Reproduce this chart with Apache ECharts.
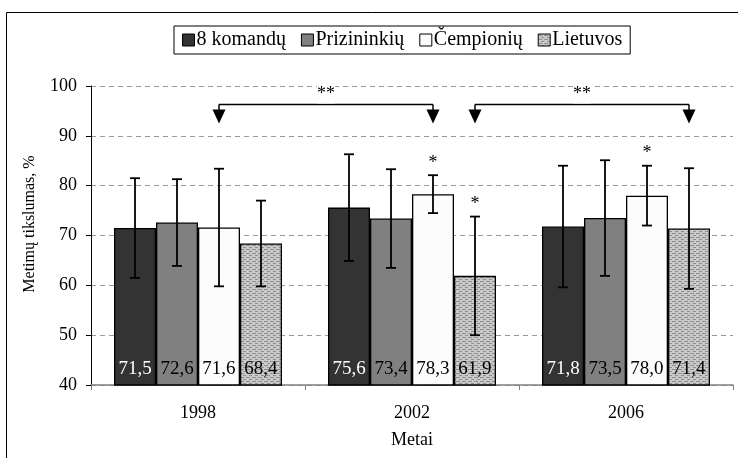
<!DOCTYPE html>
<html>
<head>
<meta charset="utf-8">
<script src="https://cdn.jsdelivr.net/npm/echarts@6/dist/echarts.min.js"></script>
<style>
  html, body { margin: 0; padding: 0; background: #fff; }
  #chart { width: 738px; height: 458px; }
</style>
</head>
<body>
<div id="chart"></div>
<script>
// -------------------- data --------------------
const categories = ['1998', '2002', '2006']
const seriesNames = ['8 komandų', 'Prizininkių', 'Čempionių', 'Lietuvos']

const komanduMean = [71.5, 75.6, 71.8]
const prizMean = [72.6, 73.4, 73.5]
const cempMean = [71.6, 78.3, 78.0]
const lietMean = [68.4, 61.9, 71.4]

// standartinis nuokrypis (error bars)
const komanduSd = [10.0, 10.7, 12.2]
const prizSd = [8.7, 9.9, 11.6]
const cempSd = [11.8, 3.8, 6.0]
const lietSd = [8.6, 11.9, 12.1]

const yTicks = [40, 50, 60, 70, 80, 90, 100]

// * virš stulpelio: [kategorija, serija]
const starMarks = [[1, 2], [1, 3], [2, 2]]
// ** skliaustai: [nuo kat., nuo serijos, iki kat., iki serijos, lygis]
const brackets = [[0, 2, 1, 2, 96.3], [1, 3, 2, 3, 96.3]]

// -------------------- helpers --------------------
const FONT = "'Liberation Serif', 'Times New Roman', serif"
const GAP = 0.215
const means = [komanduMean, prizMean, cempMean, lietMean]
const sds = [komanduSd, prizSd, cempSd, lietSd]

function makePattern() {
  const c = document.createElement('canvas')
  c.width = 6
  c.height = 4
  const ctx = c.getContext('2d')
  ctx.fillStyle = '#cacaca'
  ctx.fillRect(0, 0, 6, 4)
  ctx.fillStyle = '#8e8e8e'
  ctx.fillRect(0, 1, 4, 1)
  ctx.fillRect(3, 3, 3, 1)
  return { image: c, repeat: 'repeat' }
}

function barOffset(api, ser) {
  const band = api.size([1, 0])[0]
  const group = band * (1 - GAP)
  const bw = group / 4
  return { x: -group / 2 + bw * (ser + 0.5), bw: bw }
}

const barColors = ['#333333', '#808080', '#fcfcfc', makePattern()]
const labelColors = ['#fff', '#000', '#000', '#000']

const errData = []
means.forEach((m, s) => {
  m.forEach((v, c) => errData.push([c, s, v - sds[s][c], v + sds[s][c]]))
})

const barSeries = seriesNames.map((name, s) => ({
  name: name,
  type: 'bar',
  data: means[s],
  barGap: '0%',
  barCategoryGap: (GAP * 100) + '%',
  itemStyle: { color: barColors[s], borderColor: '#000', borderWidth: 1.3 },
  label: {
    show: true,
    position: 'insideBottom',
    distance: 7,
    formatter: p => p.value.toFixed(1).replace('.', ','),
    color: labelColors[s],
    fontFamily: FONT,
    fontSize: 19
  },
  z: 2
}))

const option = {
  animation: false,
  backgroundColor: '#fff',
  textStyle: { fontFamily: FONT },
  legend: {
    data: seriesNames,
    top: 26,
    left: 174,
    itemWidth: 12,
    itemHeight: 12,
    itemGap: 15,
    padding: [4, 8],
    borderColor: '#000',
    borderWidth: 1,
    icon: 'rect',
    itemStyle: { borderColor: '#000', borderWidth: 1 },
    textStyle: { fontFamily: FONT, fontSize: 20, color: '#000', padding: [0, 0, 0, -3] }
  },
  grid: { left: 91, right: 5, top: 86, bottom: 73 },
  xAxis: {
    type: 'category',
    data: categories,
    name: 'Metai',
    nameLocation: 'middle',
    nameGap: 46,
    nameTextStyle: { fontFamily: FONT, fontSize: 18, color: '#000' },
    axisLine: { lineStyle: { color: '#808080', width: 1.5 } },
    axisTick: { show: true, length: 5, lineStyle: { color: '#808080' } },
    axisLabel: { fontFamily: FONT, fontSize: 18, color: '#000', margin: 19 }
  },
  yAxis: {
    type: 'value',
    min: yTicks[0],
    max: yTicks[yTicks.length - 1],
    interval: 10,
    axisLine: { show: true, lineStyle: { color: '#000', width: 1 } },
    axisTick: { show: true, length: 5, lineStyle: { color: '#000' } },
    axisLabel: { fontFamily: FONT, fontSize: 18, color: '#000', margin: 14 },
    splitLine: { lineStyle: { color: '#999', type: [5, 4], width: 1 } }
  },
  graphic: [
    {
      type: 'rect',
      shape: { x: 6.5, y: 12.5, width: 900, height: 600 },
      style: { fill: null, stroke: '#000', lineWidth: 1 },
      silent: true
    },
    {
      type: 'text',
      x: 30,
      y: 224,
      rotation: Math.PI / 2,
      style: {
        text: 'Metimų tikslumas, %',
        font: '16px ' + FONT,
        fill: '#000',
        align: 'center',
        verticalAlign: 'middle'
      }
    }
  ],
  series: barSeries.concat([
    // error bars
    {
      type: 'custom',
      name: 'sd',
      data: errData,
      encode: { x: 0, y: [2, 3] },
      z: 5,
      renderItem: (params, api) => {
        const c = api.value(0)
        const s = api.value(1)
        const lo = api.coord([c, api.value(2)])
        const hi = api.coord([c, api.value(3)])
        const x = lo[0] + barOffset(api, s).x
        const cap = 5
        const style = { stroke: '#000', lineWidth: 1.8 }
        return {
          type: 'group',
          children: [
            { type: 'line', shape: { x1: x, y1: lo[1], x2: x, y2: hi[1] }, style: style },
            { type: 'line', shape: { x1: x - cap, y1: lo[1], x2: x + cap, y2: lo[1] }, style: style },
            { type: 'line', shape: { x1: x - cap, y1: hi[1], x2: x + cap, y2: hi[1] }, style: style }
          ]
        }
      }
    },
    // * žymės
    {
      type: 'custom',
      name: 'stars',
      data: starMarks.map(d => [d[0], d[1], means[d[1]][d[0]] + sds[d[1]][d[0]]]),
      encode: { x: 0, y: 2 },
      z: 5,
      renderItem: (params, api) => {
        const c = api.value(0)
        const s = api.value(1)
        const p = api.coord([c, api.value(2)])
        return {
          type: 'text',
          x: p[0] + barOffset(api, s).x,
          y: p[1] - 3,
          style: { text: '*', font: '18px ' + FONT, fill: '#000', align: 'center', verticalAlign: 'bottom' }
        }
      }
    },
    // ** skliaustai su rodyklėmis
    {
      type: 'custom',
      name: 'brackets',
      data: brackets,
      encode: { x: [0, 2], y: 4 },
      z: 5,
      renderItem: (params, api) => {
        const a = api.coord([api.value(0), api.value(4)])
        const b = api.coord([api.value(2), api.value(4)])
        const x1 = a[0] + barOffset(api, api.value(1)).x
        const x2 = b[0] + barOffset(api, api.value(3)).x
        const y = a[1]
        const style = { stroke: '#000', lineWidth: 1.5 }
        const arrow = x => ({
          type: 'polygon',
          shape: { points: [[x - 6.5, y + 5], [x + 6.5, y + 5], [x, y + 19]] },
          style: { fill: '#000' }
        })
        return {
          type: 'group',
          children: [
            { type: 'line', shape: { x1: x1, y1: y, x2: x2, y2: y }, style: style },
            { type: 'line', shape: { x1: x1, y1: y, x2: x1, y2: y + 6 }, style: style },
            { type: 'line', shape: { x1: x2, y1: y, x2: x2, y2: y + 6 }, style: style },
            arrow(x1),
            arrow(x2),
            {
              type: 'text',
              x: (x1 + x2) / 2,
              y: y - 1,
              style: { text: '**', font: '18px ' + FONT, fill: '#000', align: 'center', verticalAlign: 'bottom', backgroundColor: '#fff' }
            }
          ]
        }
      }
    }
  ])
}

const chart = echarts.init(document.getElementById('chart'))
chart.setOption(option)
</script>
</body>
</html>
